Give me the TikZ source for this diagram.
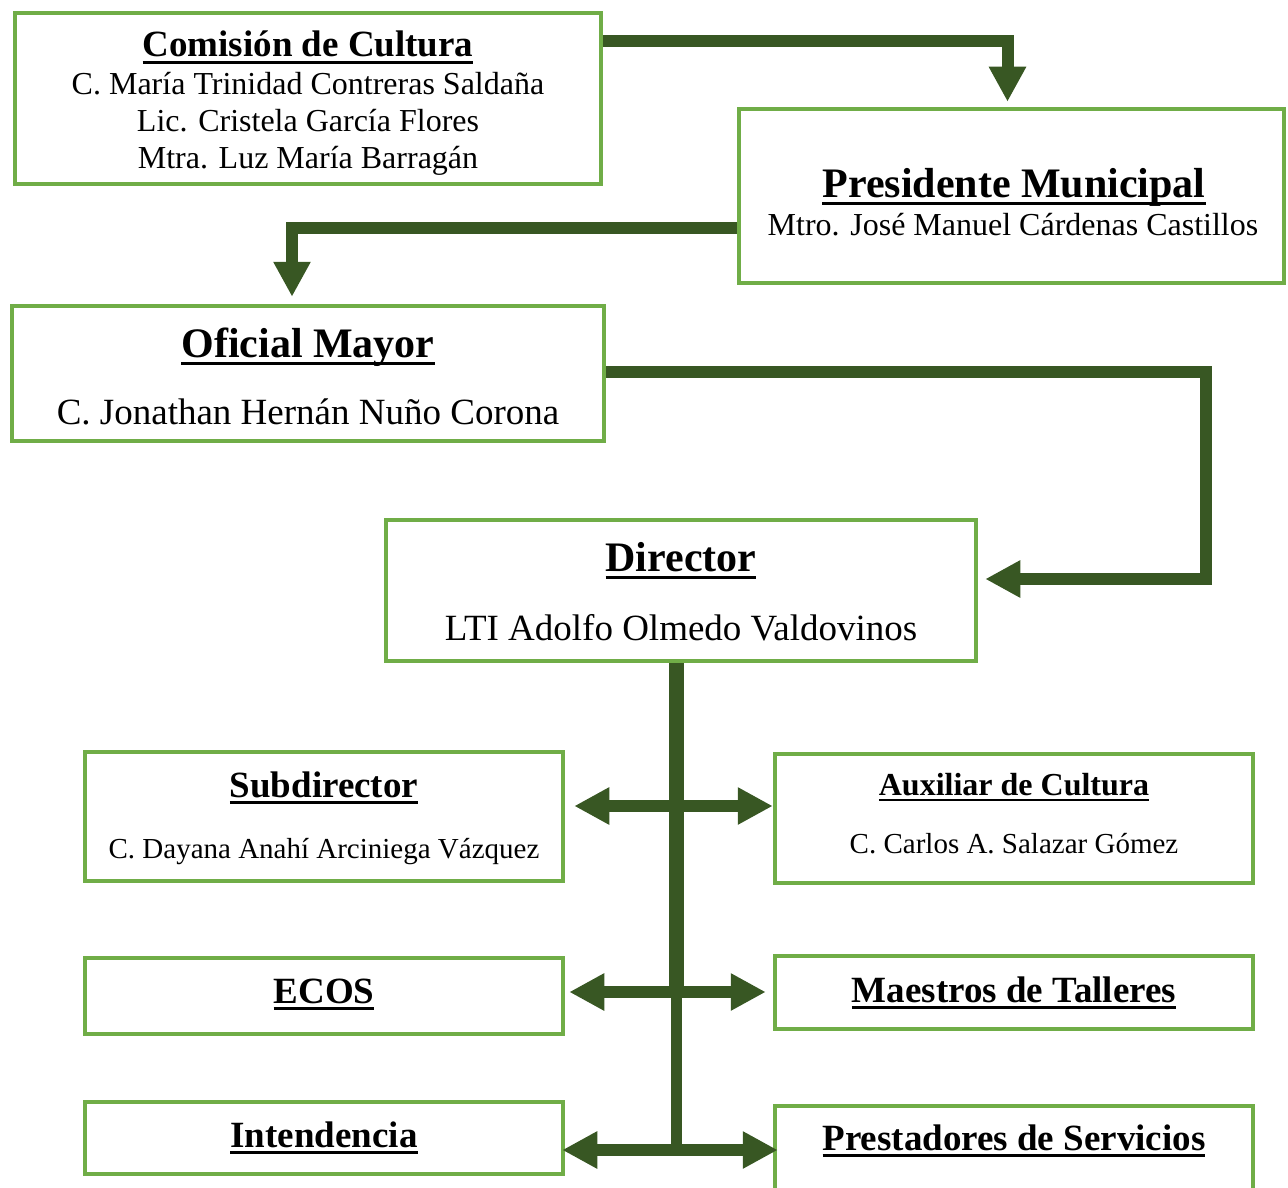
\documentclass[tikz,border=0pt]{standalone}
\usepackage{fontspec}
\setmainfont{Liberation Serif}
\usetikzlibrary{arrows.meta}
\definecolor{boxgreen}{HTML}{70AD47}
\definecolor{linkgreen}{HTML}{385723}
\newsavebox{\ulbox}
\newcommand{\ulb}[1]{\sbox{\ulbox}{\bfseries #1}\rlap{\rule[-0.2em]{\wd\ulbox}{0.09em}}\usebox{\ulbox}}
\tikzset{
  box/.style={draw=boxgreen, line width=4.5pt, fill=white, inner sep=0pt},
  txt/.style={inner sep=0pt, anchor=base, font=\fontsize{#1}{#1}\selectfont},
  link/.style={draw=linkgreen, line width=12pt, -{Triangle[length=35pt,width=35pt]}},
  both/.style={link, {Triangle[length=35pt,width=35pt]}-{Triangle[length=35pt,width=35pt]}}
}

\begin{document}
\begin{tikzpicture}[x=1pt,y=-1pt]
\useasboundingbox (0,0) rectangle (1288,1188);

% boxes
\node[box, minimum width=586pt, minimum height=171pt] (com) at (308,98.5) {};
\node[box, minimum width=545pt, minimum height=174pt] (pres) at (1011.5,196) {};
\node[box, minimum width=592pt, minimum height=135pt] (ofi) at (308,373.5) {};
\node[box, minimum width=590pt, minimum height=141pt] (dir) at (681,590.5) {};
\node[box, minimum width=478pt, minimum height=129pt] (sub) at (324,816.5) {};
\node[box, minimum width=478pt, minimum height=129pt] (aux) at (1014,818.5) {};
\node[box, minimum width=478pt, minimum height=76pt] (ecos) at (324,996) {};
\node[box, minimum width=478pt, minimum height=73pt] (mae) at (1014,992.5) {};
\node[box, minimum width=478pt, minimum height=72pt] (int) at (324,1138) {};
\node[box, minimum width=478pt, minimum height=106pt] (pre) at (1014,1159) {};

% texts
\node[txt=37] (com-t) at (308,57) {\ulb{Comisión de Cultura}};
\node[txt=32] (com-a) at (308,95) {C. María Trinidad Contreras Saldaña};
\node[txt=32] (com-b) at (308,132) {Lic. Cristela García Flores};
\node[txt=32] (com-c) at (308,168) {Mtra. Luz María Barragán};
\node[txt=42] (pres-t) at (1014,197) {\ulb{Presidente Municipal}};
\node[txt=32] (pres-n) at (1013,235) {Mtro. José Manuel Cárdenas Castillos};
\node[txt=42] (ofi-t) at (308,357) {\ulb{Oficial Mayor}};
\node[txt=37] (ofi-n) at (308,424) {C. Jonathan Hernán Nuño Corona};
\node[txt=42] (dir-t) at (681,571) {\ulb{Director}};
\node[txt=37] (dir-n) at (681,640) {LTI Adolfo Olmedo Valdovinos};
\node[txt=37] (sub-t) at (324,797) {\ulb{Subdirector}};
\node[txt=29] (sub-n) at (324,858) {C. Dayana Anahí Arciniega Vázquez};
\node[txt=32] (aux-t) at (1014,795) {\ulb{Auxiliar de Cultura}};
\node[txt=29] (aux-n) at (1014,853) {C. Carlos A. Salazar Gómez};
\node[txt=37] (ecos-t) at (324,1003) {\ulb{ECOS}};
\node[txt=37] (mae-t) at (1014,1002) {\ulb{Maestros de Talleres}};
\node[txt=37] (int-t) at (324,1147) {\ulb{Intendencia}};
\node[txt=37] (pre-t) at (1014,1150) {\ulb{Prestadores de Servicios}};

% connectors
\coordinate (bend) at (1206,579);
\coordinate (hub1) at (676,806);
\coordinate (hub2) at (676,992);
\coordinate (hub3) at (676,1150);
\draw[link, shorten >=5pt] (com.east |- 0,41) -| (pres.north -| 1007.5,0);
\draw[link, shorten >=7pt] (pres.west |- 0,228) -| (ofi.north -| 292,0);
\draw[link, shorten >=7pt] (ofi.east |- 0,372) -| (bend) -- (dir.east |- bend);
\draw[draw=linkgreen, line width=15pt] (dir.south -| hub1) -- (hub2);
\draw[draw=linkgreen, line width=11pt] (hub2) -- ([yshift=-5pt]hub3);
\draw[both, shorten <=9pt] (sub.east |- hub1) -- (aux.west |- hub1);
\draw[both, shorten <=4pt, shorten >=7pt] (ecos.east |- hub2) -- (mae.west |- hub2);
\draw[both, shorten <=-3pt, shorten >=-5pt] (int.east |- hub3) -- (pre.west |- hub3);
\end{tikzpicture}
\end{document}
